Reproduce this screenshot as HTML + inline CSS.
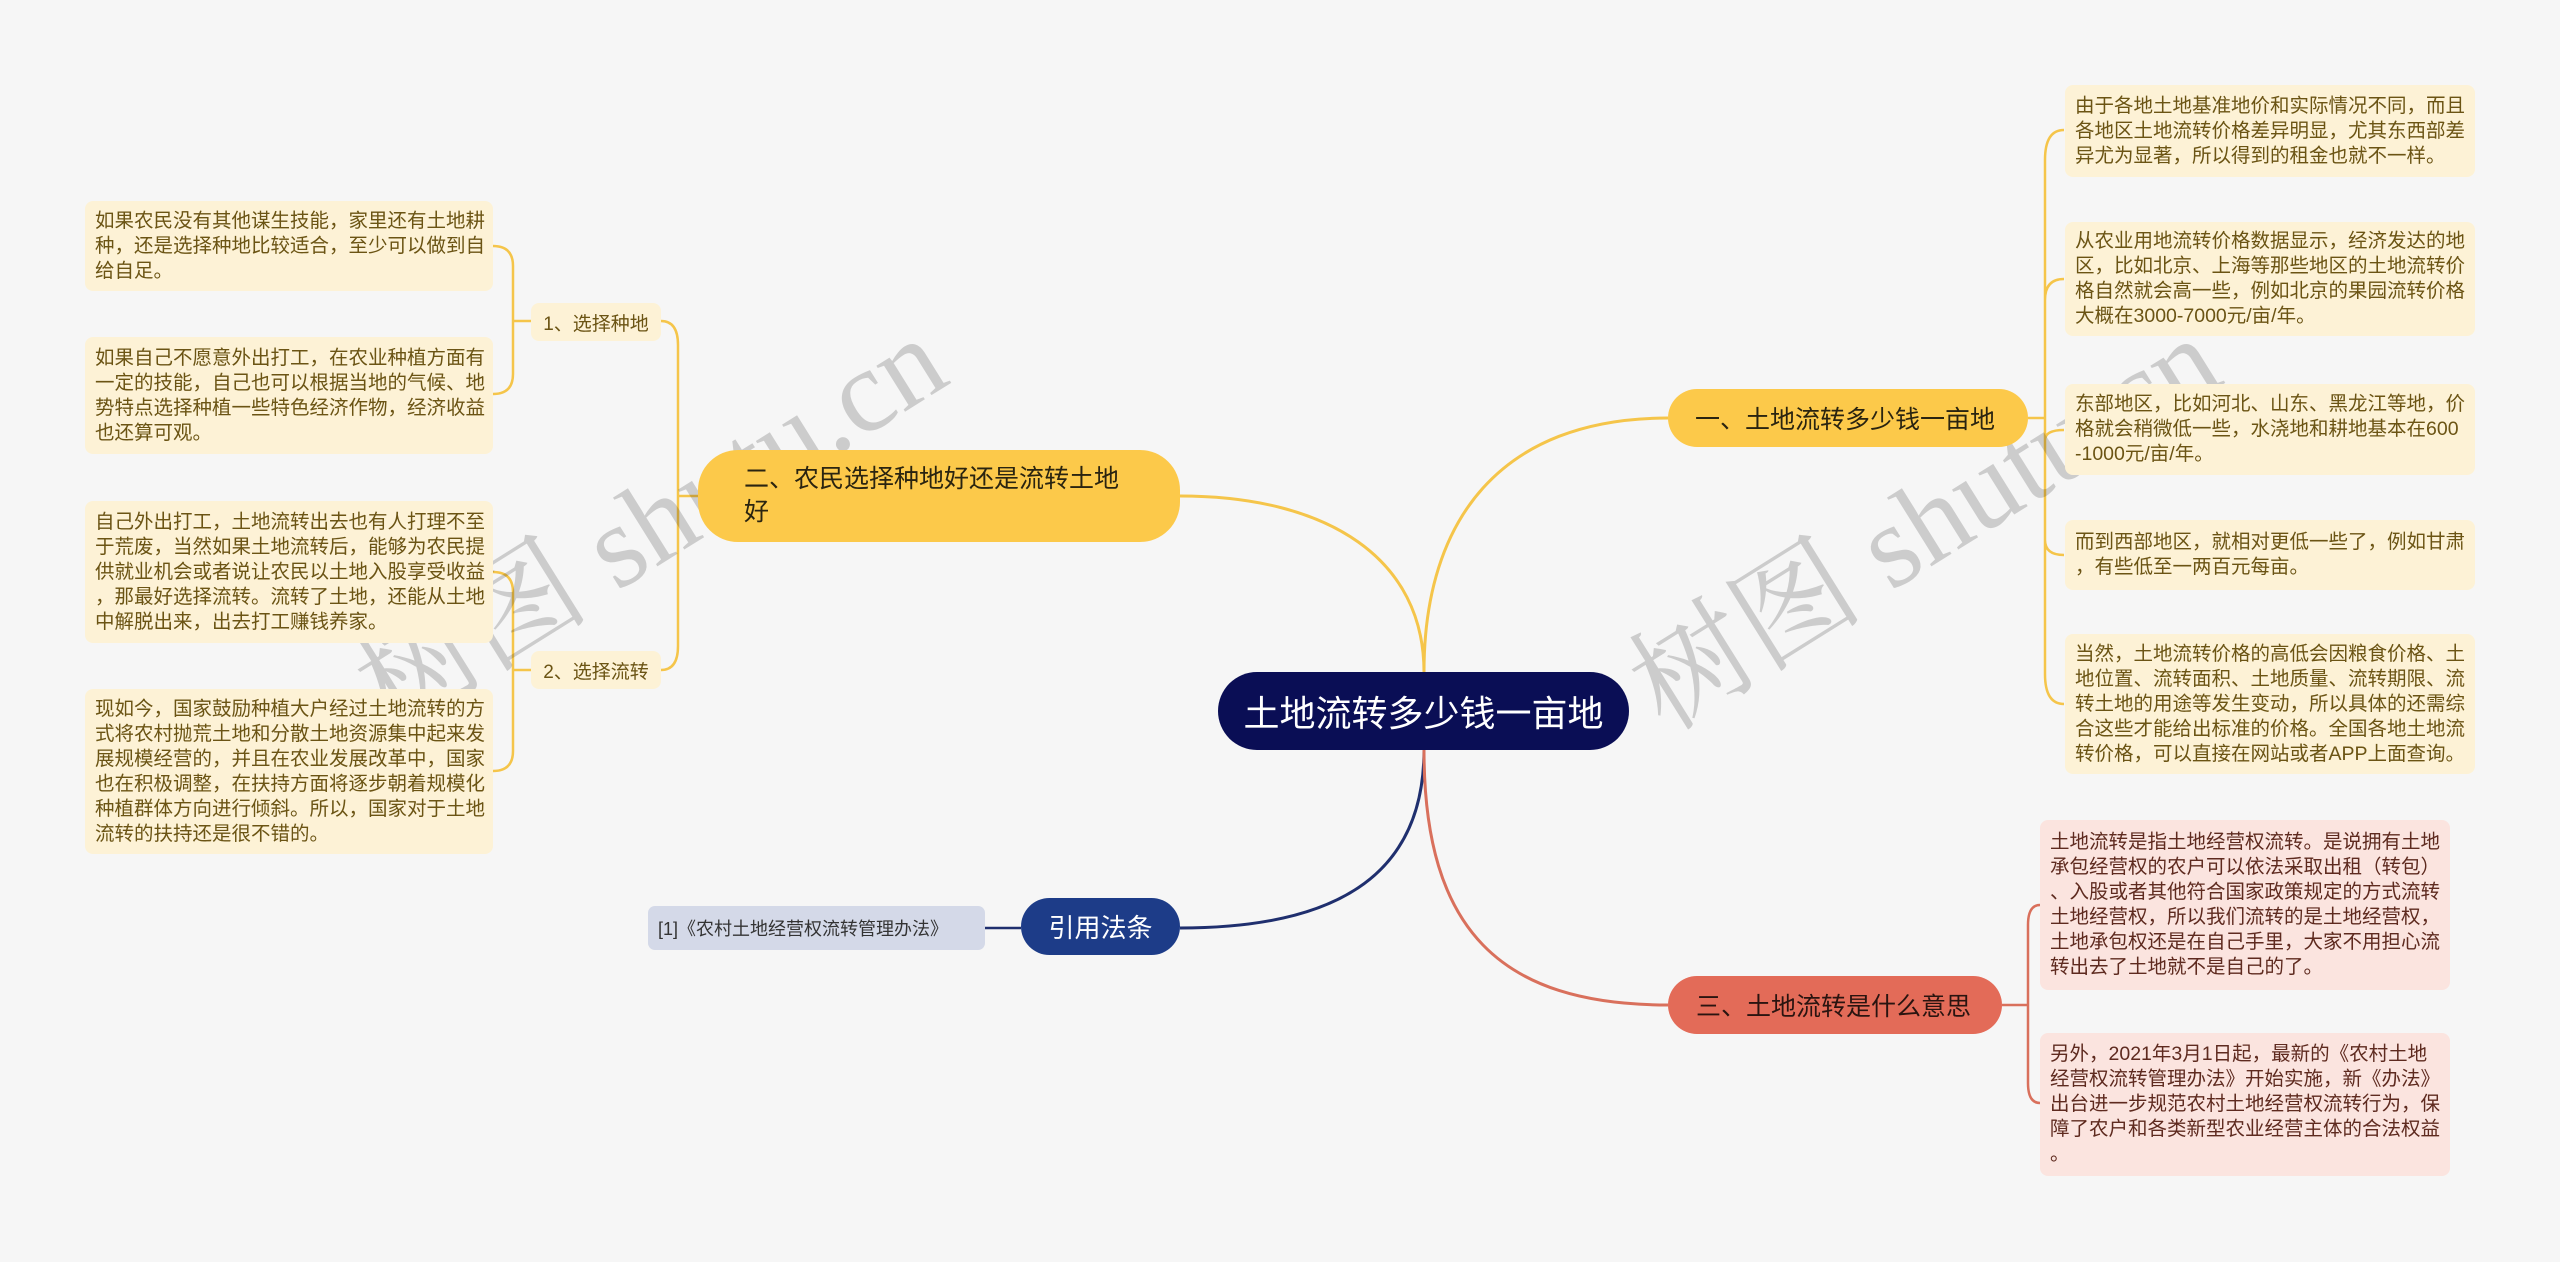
<!DOCTYPE html>
<html><head><meta charset="utf-8">
<style>
html,body{margin:0;padding:0}
body{width:2560px;height:1262px;background:#f6f6f6;position:relative;overflow:hidden;font-family:"Liberation Sans","Noto Sans CJK SC",sans-serif}
.n{position:absolute;box-sizing:border-box;white-space:nowrap}
.leaf{background:#fdf2d6;color:#6b5414;font-size:19.5px;line-height:25px;border-radius:8px;padding:0 10px;display:flex;align-items:center}
.pink{background:#fbe4df;color:#5e2a1f}
.sub{background:#fdf2d6;color:#6b5414;font-size:19px;border-radius:8px;display:flex;align-items:center;justify-content:center}
.br{display:flex;align-items:center;border-radius:40px}
.wm{position:absolute;font-family:"Liberation Serif","Noto Serif CJK SC",serif;font-size:118px;color:rgba(0,0,0,0.17);white-space:nowrap;transform-origin:center;transform:translate(-50%,-50%) rotate(-32deg)}
svg{position:absolute;left:0;top:0}
</style></head><body>
<svg width="2560" height="1262" fill="none" stroke-width="3">
<path d="M1424,672 C1424,520 1500,418 1668,418" stroke="#f5c54a"/>
<path d="M1424,672 C1424,560 1330,496 1180,496" stroke="#f5c54a"/>
<path d="M1424,750 C1424,880 1330,928 1180,928" stroke="#1f2f6e"/>
<path d="M1424,750 C1424,930 1500,1005 1668,1005" stroke="#d9705c"/>
<path d="M698,496 L678,496" stroke="#f5c54a" stroke-width="2.5"/>
<path d="M661,321 Q678,321 678,345 L678,646 Q678,670 661,670" stroke="#f5c54a" stroke-width="2.5"/>
<path d="M493,246 Q513,246 513,266 L513,374 Q513,394 493,394 M513,321 L531,321" stroke="#f5c54a" stroke-width="2.5"/>
<path d="M493,572 Q513,572 513,592 L513,751 Q513,771 493,771 M513,670 L531,670" stroke="#f5c54a" stroke-width="2.5"/>
<path d="M2028,418 L2045,418" stroke="#f5c54a" stroke-width="2.5"/>
<path d="M2064,130 Q2045,130 2045,160 L2045,674 Q2045,704 2064,704 M2064,279 Q2045,279 2045,300 M2064,430 Q2045,430 2045,440 M2064,555 Q2045,555 2045,540" stroke="#f5c54a" stroke-width="2.5"/>
<path d="M2002,1005 L2028,1005 M2040,905 Q2028,905 2028,925 L2028,1083 Q2028,1103 2040,1103" stroke="#d9705c" stroke-width="2.5"/>
<path d="M985,928 L1021,928" stroke="#1f2f6e" stroke-width="2.5"/>
</svg>

<div class="wm" style="left:645px;top:514px">树图 shutu.cn</div>
<div class="wm" style="left:1919px;top:514px">树图 shutu.cn</div>

<div class="n br" style="left:1218px;top:672px;width:411px;height:78px;background:#0a0e55;color:#fff;font-size:36px;justify-content:center">土地流转多少钱一亩地</div>
<div class="n br" style="left:1668px;top:389px;width:360px;height:58px;background:#fcc94a;color:#2a2410;font-size:25px;padding-left:27px">一、土地流转多少钱一亩地</div>
<div class="n br" style="left:698px;top:450px;width:482px;height:92px;background:#fcc94a;color:#2a2410;font-size:25px;line-height:33px;padding-left:46px">二、农民选择种地好还是流转土地<br>好</div>
<div class="n br" style="left:1021px;top:898px;width:159px;height:57px;background:#1d3c88;color:#fff;font-size:26px;justify-content:center">引用法条</div>
<div class="n br" style="left:1668px;top:976px;width:334px;height:58px;background:#e36b58;color:#2a1410;font-size:25px;padding-left:28px">三、土地流转是什么意思</div>
<div class="n" style="left:648px;top:906px;width:337px;height:44px;background:#d4d9e8;border-radius:7px;color:#333;font-size:18px;display:flex;align-items:center;padding-left:10px">[1]《农村土地经营权流转管理办法》</div>

<div class="n sub" style="left:531px;top:303px;width:130px;height:38px">1、选择种地</div>
<div class="n sub" style="left:531px;top:651px;width:130px;height:38px">2、选择流转</div>

<div class="n leaf" style="left:85px;top:201px;width:408px;height:90px">如果农民没有其他谋生技能，家里还有土地耕<br>种，还是选择种地比较适合，至少可以做到自<br>给自足。</div>
<div class="n leaf" style="left:85px;top:337px;width:408px;height:117px">如果自己不愿意外出打工，在农业种植方面有<br>一定的技能，自己也可以根据当地的气候、地<br>势特点选择种植一些特色经济作物，经济收益<br>也还算可观。</div>
<div class="n leaf" style="left:85px;top:501px;width:408px;height:142px">自己外出打工，土地流转出去也有人打理不至<br>于荒废，当然如果土地流转后，能够为农民提<br>供就业机会或者说让农民以土地入股享受收益<br>，那最好选择流转。流转了土地，还能从土地<br>中解脱出来，出去打工赚钱养家。</div>
<div class="n leaf" style="left:85px;top:689px;width:408px;height:165px">现如今，国家鼓励种植大户经过土地流转的方<br>式将农村抛荒土地和分散土地资源集中起来发<br>展规模经营的，并且在农业发展改革中，国家<br>也在积极调整，在扶持方面将逐步朝着规模化<br>种植群体方向进行倾斜。所以，国家对于土地<br>流转的扶持还是很不错的。</div>

<div class="n leaf" style="left:2065px;top:85px;width:410px;height:92px">由于各地土地基准地价和实际情况不同，而且<br>各地区土地流转价格差异明显，尤其东西部差<br>异尤为显著，所以得到的租金也就不一样。</div>
<div class="n leaf" style="left:2065px;top:222px;width:410px;height:114px">从农业用地流转价格数据显示，经济发达的地<br>区，比如北京、上海等那些地区的土地流转价<br>格自然就会高一些，例如北京的果园流转价格<br>大概在3000-7000元/亩/年。</div>
<div class="n leaf" style="left:2065px;top:384px;width:410px;height:91px">东部地区，比如河北、山东、黑龙江等地，价<br>格就会稍微低一些，水浇地和耕地基本在600<br>-1000元/亩/年。</div>
<div class="n leaf" style="left:2065px;top:520px;width:410px;height:70px">而到西部地区，就相对更低一些了，例如甘肃<br>，有些低至一两百元每亩。</div>
<div class="n leaf" style="left:2065px;top:634px;width:410px;height:140px">当然，土地流转价格的高低会因粮食价格、土<br>地位置、流转面积、土地质量、流转期限、流<br>转土地的用途等发生变动，所以具体的还需综<br>合这些才能给出标准的价格。全国各地土地流<br>转价格，可以直接在网站或者APP上面查询。</div>

<div class="n leaf pink" style="left:2040px;top:820px;width:410px;height:170px">土地流转是指土地经营权流转。是说拥有土地<br>承包经营权的农户可以依法采取出租（转包）<br>、入股或者其他符合国家政策规定的方式流转<br>土地经营权，所以我们流转的是土地经营权，<br>土地承包权还是在自己手里，大家不用担心流<br>转出去了土地就不是自己的了。</div>
<div class="n leaf pink" style="left:2040px;top:1033px;width:410px;height:143px">另外，2021年3月1日起，最新的《农村土地<br>经营权流转管理办法》开始实施，新《办法》<br>出台进一步规范农村土地经营权流转行为，保<br>障了农户和各类新型农业经营主体的合法权益<br>。</div>
</body></html>
